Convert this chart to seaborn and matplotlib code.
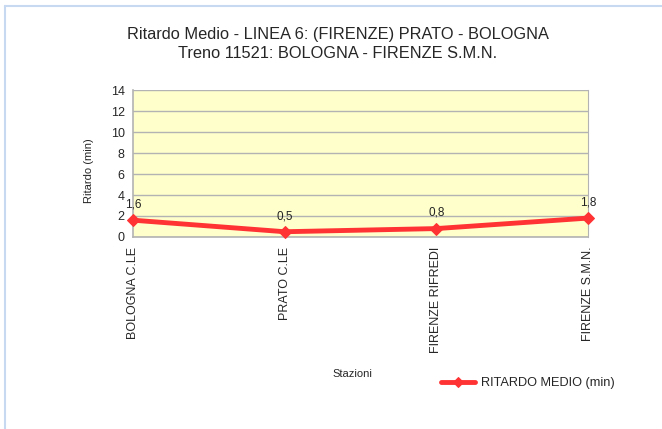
import numpy as np
import pandas as pd
import matplotlib
matplotlib.use("Agg")
import matplotlib.pyplot as plt
import seaborn as sns
from matplotlib.lines import Line2D

stazioni = ["BOLOGNA C.LE", "PRATO C.LE", "FIRENZE RIFREDI", "FIRENZE S.M.N."]
ritardo = [1.6, 0.5, 0.8, 1.8]
y_ticks = [0, 2, 4, 6, 8, 10, 12, 14]

sns.set_style("white")
plt.rcParams['font.family'] = ['Liberation Sans', 'DejaVu Sans']

df = pd.DataFrame({"Stazioni": stazioni, "Ritardo": ritardo})
df["pos"] = np.arange(len(stazioni))

fig = plt.figure(figsize=(6.62, 4.29), dpi=100)
ax = fig.add_axes([0.201, 0.4476, 0.687, 0.3424])

# cornice esterna (solo lati sinistro e superiore visibili)
bordo = '#c6d9f1'
fig.lines.append(Line2D([4.5 / 662, 1.0], [1 - 5.5 / 429, 1 - 5.5 / 429],
                        transform=fig.transFigure, color=bordo, linewidth=1.5))
fig.lines.append(Line2D([4.5 / 662, 4.5 / 662], [0, 1 - 5.5 / 429],
                        transform=fig.transFigure, color=bordo, linewidth=1.5))

ax.set_facecolor('#ffffcc')
sns.lineplot(data=df, x="pos", y="Ritardo", ax=ax, color='#ff3333', linewidth=3.5,
             marker='D', markersize=6, markeredgecolor='#ff3333',
             label="RITARDO MEDIO (min)", legend=False, clip_on=False, zorder=5)

for i, v in enumerate(ritardo):
    ax.annotate(f"{v:.1f}".replace('.', ','), (i, v), xytext=(0, 7),
                textcoords='offset points', ha='center', va='bottom', fontsize=8.5,
                color='#222222')

ax.set_xlim(0, len(stazioni) - 1)
ax.set_ylim(0, 14)
ax.set_yticks(y_ticks)
ax.set_xticks(df["pos"])
ax.set_xticklabels(stazioni, rotation=90, fontsize=9)
ax.tick_params(axis='y', labelsize=9, length=4, color='#b3b3b3', pad=2)
ax.tick_params(axis='x', length=5, color='#b3b3b3', pad=2, direction='out')
ax.yaxis.grid(True, color='#b3b3b3', linewidth=1)
ax.set_axisbelow(True)
for s in ax.spines.values():
    s.set_color('#b3b3b3')
ax.spines['top'].set_visible(False)
ax.spines['left'].set_linewidth(1.2)
ax.spines['bottom'].set_linewidth(1.2)

ax.set_ylabel("Ritardo (min)", fontsize=8)
ax.set_xlabel("")
fig.text(352 / 662, 1 - 374 / 429, "Stazioni", ha='center', va='center', fontsize=8)
ax.yaxis.set_label_coords(-0.085, 0.45)

fig.text(338 / 662, 1 - 35 / 429, "Ritardo Medio - LINEA 6: (FIRENZE) PRATO - BOLOGNA",
         ha='center', va='center', fontsize=11.8)
fig.text(338 / 662, 1 - 53 / 429, "Treno 11521: BOLOGNA - FIRENZE S.M.N.",
         ha='center', va='center', fontsize=11.8)

handles, labels = ax.get_legend_handles_labels()
fig.legend(handles, labels, loc='center', bbox_to_anchor=(528 / 662, 1 - 383 / 429),
           frameon=False, fontsize=9.2, handlelength=2.6, handletextpad=0.5,
           markerscale=0.8)

fig.savefig("out.png", dpi=100)
